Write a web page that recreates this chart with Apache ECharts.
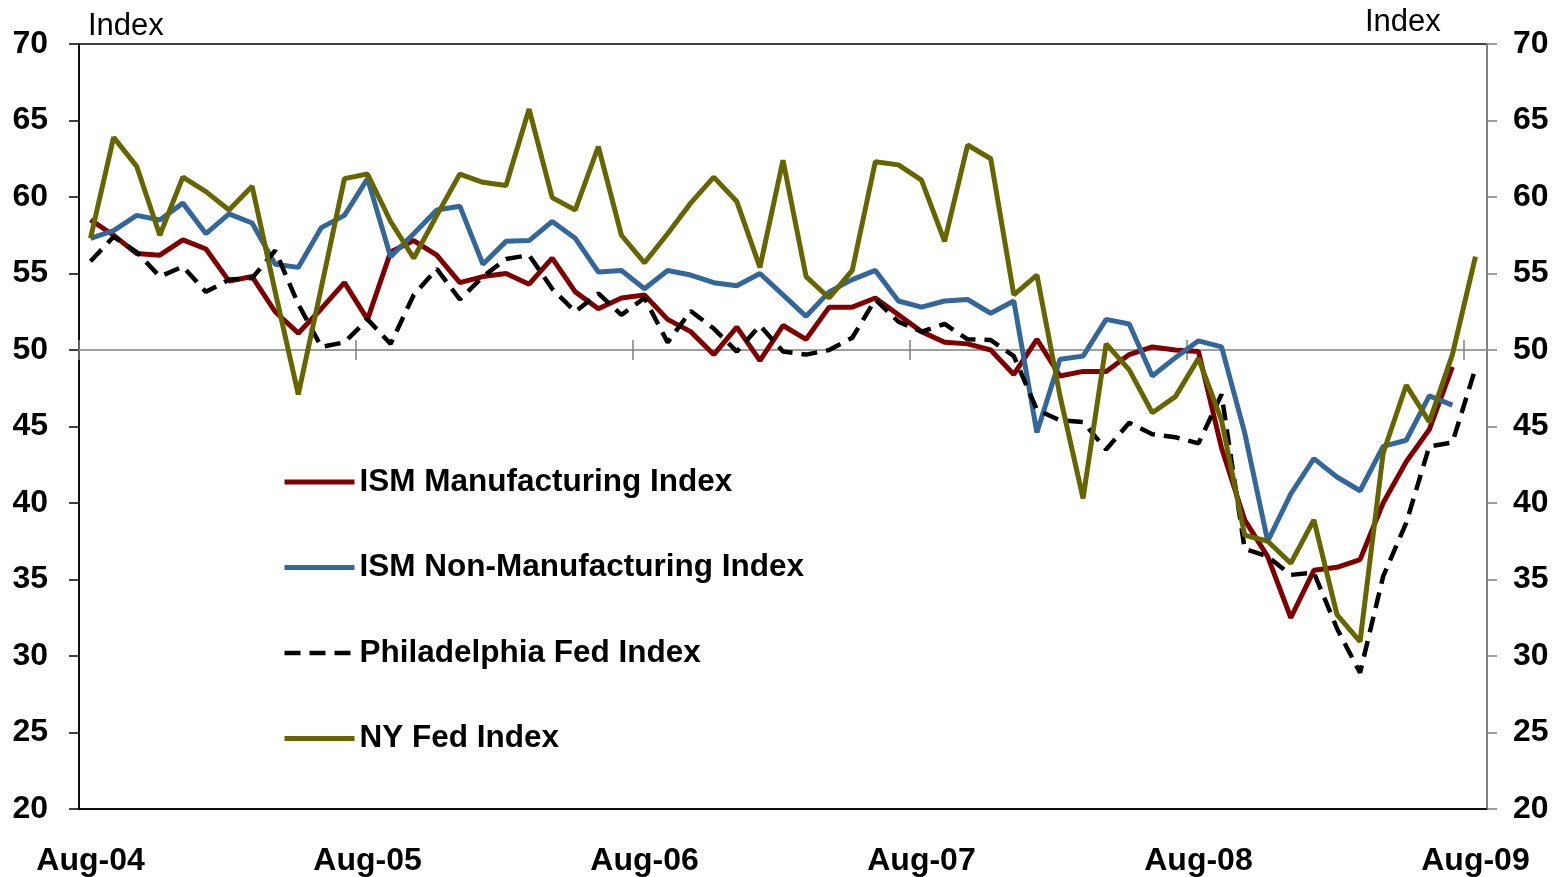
<!DOCTYPE html>
<html><head><meta charset="utf-8">
<script src="https://cdn.jsdelivr.net/npm/echarts@6/dist/echarts.min.js"></script>
<style>html,body{margin:0;padding:0;background:#fff}#c{width:1564px;height:877px}</style>
</head><body><div id="c"></div>
<script>
const months = ['Aug-04','Sep-04','Oct-04','Nov-04','Dec-04',
  'Jan-05','Feb-05','Mar-05','Apr-05','May-05','Jun-05','Jul-05','Aug-05','Sep-05','Oct-05','Nov-05','Dec-05',
  'Jan-06','Feb-06','Mar-06','Apr-06','May-06','Jun-06','Jul-06','Aug-06','Sep-06','Oct-06','Nov-06','Dec-06',
  'Jan-07','Feb-07','Mar-07','Apr-07','May-07','Jun-07','Jul-07','Aug-07','Sep-07','Oct-07','Nov-07','Dec-07',
  'Jan-08','Feb-08','Mar-08','Apr-08','May-08','Jun-08','Jul-08','Aug-08','Sep-08','Oct-08','Nov-08','Dec-08',
  'Jan-09','Feb-09','Mar-09','Apr-09','May-09','Jun-09','Jul-09','Aug-09'];

const ismMfg = [58.5,57.5,56.3,56.2,57.2,56.6,54.5,54.8,52.5,51.1,
  52.7,54.4,52.0,56.4,57.15,56.2,54.4,54.8,55.0,54.3,
  56.0,53.8,52.7,53.4,53.6,52.0,51.2,49.7,51.5,49.3,
  51.6,50.7,52.8,52.8,53.4,52.3,51.2,50.5,50.4,50.0,
  48.4,50.7,48.3,48.6,48.6,49.7,50.2,50.0,49.9,43.6,
  38.9,36.5,32.5,35.6,35.8,36.3,40.0,42.7,44.8,48.9,null];

const ismNonMfg = [57.3,57.8,58.8,58.5,59.6,57.6,58.9,58.3,55.6,55.4,
  58.0,58.8,61.2,56.1,57.6,59.15,59.4,55.6,57.1,57.15,
  58.4,57.3,55.1,55.2,54.0,55.2,54.9,54.4,54.2,55.0,
  53.6,52.2,53.8,54.6,55.2,53.2,52.8,53.2,53.3,52.4,
  53.2,44.6,49.4,49.6,52.0,51.7,48.3,49.5,50.6,50.2,
  44.6,37.5,40.6,42.9,41.7,40.8,43.7,44.1,47.0,46.4,null];

const phillyFed = [55.8,57.4,56.4,54.8,55.45,53.8,54.6,54.7,56.5,53.0,
  50.2,50.5,52.0,50.4,53.6,55.3,53.3,54.8,55.95,56.2,
  54.0,52.5,53.7,52.3,53.4,50.5,52.55,51.4,49.9,51.6,
  49.9,49.7,50.0,50.8,53.3,51.85,51.2,51.7,50.7,50.65,
  49.6,46.1,45.4,45.3,43.5,45.25,44.5,44.3,43.9,47.1,
  37.0,36.5,35.3,35.45,31.8,28.9,35.2,38.7,43.7,43.95,48.8];

const nyFed = [57.3,63.9,62.0,57.5,61.3,60.35,59.15,60.7,53.8,47.1,
  54.1,61.2,61.5,58.4,56.0,58.8,61.5,60.96,60.75,65.75,
  59.96,59.15,63.3,57.5,55.7,57.6,59.6,61.3,59.7,55.4,
  62.4,54.8,53.4,55.2,62.3,62.1,61.1,57.1,63.4,62.5,
  53.6,54.9,47.0,40.3,50.4,48.7,45.9,46.95,49.45,45.4,
  37.9,37.5,36.06,38.9,32.7,30.94,43.25,47.7,45.3,49.7,56.1];

const seriesNames = ['ISM Manufacturing Index','ISM Non-Manufacturing Index','Philadelphia Fed Index','NY Fed Index'];
const yMin = 20, yMax = 70, yStep = 5, refLevel = 50;

const FONT = '"Liberation Sans", Arial, sans-serif';
const chart = echarts.init(document.getElementById('c'), null, {renderer:'canvas'});

const gridL = 79, gridR = 77, gridT = 44, gridB = 68;
const plotH = 877 - gridT - gridB;
const refH = plotH * (yMax - refLevel) / (yMax - yMin);

const lbl = {fontFamily: FONT, fontWeight: 'bold', fontSize: 32, color: '#000'};
const dash = [16, 9];

const option = {
  animation: false,
  backgroundColor: '#fff',
  grid: [
    {left: gridL, right: gridR, top: gridT, bottom: gridB, show: true, borderColor: '#000', borderWidth: 1.5, outerBoundsMode: 'none', containLabel: false},
    {left: gridL, right: gridR, top: gridT, height: refH, show: false, outerBoundsMode: 'none', containLabel: false}
  ],
  xAxis: [
    {gridIndex: 0, type: 'category', data: months, boundaryGap: true,
     axisLine: {lineStyle: {color: '#000', width: 1.5}},
     axisTick: {show: false},
     axisLabel: Object.assign({interval: 11, margin: 36, hideOverlap: false}, lbl),
     splitLine: {show: false}},
    {gridIndex: 1, type: 'category', data: months, boundaryGap: true, position: 'bottom',
     axisLine: {lineStyle: {color: '#808080', width: 1.5}},
     axisTick: {show: true, interval: 11, length: 10, inside: false, lineStyle: {color: '#808080', width: 1.5}},
     axisLabel: {show: false}, splitLine: {show: false}},
    {gridIndex: 1, type: 'category', data: months, boundaryGap: true, position: 'bottom',
     axisLine: {show: false},
     axisTick: {show: true, interval: 11, length: 10, inside: true, lineStyle: {color: '#808080', width: 1.5}},
     axisLabel: {show: false}, splitLine: {show: false}}
  ],
  yAxis: [
    {gridIndex: 0, type: 'value', min: yMin, max: yMax, interval: yStep, position: 'left',
     axisLine: {show: true, lineStyle: {color: '#000', width: 1.5}},
     axisTick: {show: true, length: 10, lineStyle: {color: '#000', width: 1.5}},
     axisLabel: Object.assign({margin: 31}, lbl),
     splitLine: {show: false}},
    {gridIndex: 0, type: 'value', min: yMin, max: yMax, interval: yStep, position: 'right',
     axisLine: {show: true, lineStyle: {color: '#808080', width: 2}},
     axisTick: {show: true, length: 10, lineStyle: {color: '#808080', width: 1.5}},
     axisLabel: Object.assign({margin: 26}, lbl),
     splitLine: {show: false}},
    {gridIndex: 1, type: 'value', min: refLevel, max: yMax, show: false}
  ],
  legend: {
    orient: 'vertical', left: 282, top: 465, padding: 0,
    itemWidth: 70, itemHeight: 14, itemGap: 51.5,
    selectedMode: false,
    itemStyle: {opacity: 0},
    lineStyle: {width: 5},
    data: [
      {name: seriesNames[0]},
      {name: seriesNames[1]},
      {name: seriesNames[2], lineStyle: {width: 4.5, type: dash}},
      {name: seriesNames[3]}
    ],
    textStyle: {fontFamily: FONT, fontWeight: 'bold', fontSize: 31.5, color: '#000', lineHeight: 34}
  },
  graphic: [
    {type: 'text', left: 88, top: 11, style: {text: 'Index', font: '31px ' + FONT, fill: '#000'}},
    {type: 'text', left: 1365, top: 7, style: {text: 'Index', font: '31px ' + FONT, fill: '#000'}}
  ],
  series: [
    {name: seriesNames[0], type: 'line', data: ismMfg, xAxisIndex: 0, yAxisIndex: 0, symbol: 'none',
     lineStyle: {color: '#800000', width: 5}, itemStyle: {color: '#800000'}, z: 3},
    {name: seriesNames[1], type: 'line', data: ismNonMfg, xAxisIndex: 0, yAxisIndex: 0, symbol: 'none',
     lineStyle: {color: '#336699', width: 5}, itemStyle: {color: '#336699'}, z: 4},
    {name: seriesNames[2], type: 'line', data: phillyFed, xAxisIndex: 0, yAxisIndex: 0, symbol: 'none',
     lineStyle: {color: '#000', width: 4.5, type: dash}, itemStyle: {color: '#000'}, z: 5},
    {name: seriesNames[3], type: 'line', data: nyFed, xAxisIndex: 0, yAxisIndex: 0, symbol: 'none',
     lineStyle: {color: '#666600', width: 5}, itemStyle: {color: '#666600'}, z: 6}
  ]
};
chart.setOption(option);
</script>
</body></html>
